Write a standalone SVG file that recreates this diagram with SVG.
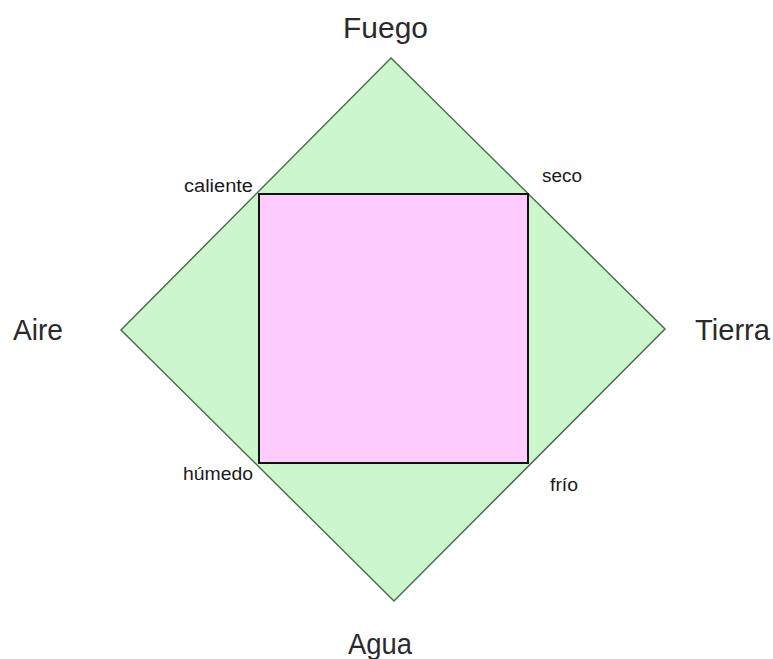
<svg xmlns="http://www.w3.org/2000/svg" width="773" height="659" viewBox="0 0 773 659">
<style>
.big{font-family:"Liberation Sans",Arial,sans-serif;font-size:29px;fill:#2a2a2a}
.small{font-family:"Liberation Sans",Arial,sans-serif;font-size:18px;fill:#1a1a1a}
</style>
<rect width="773" height="659" fill="#ffffff"/>
<g id="diamond">
<polygon points="391,58 665,329 394,601 121,330" fill="#ccf7cc" stroke="#4c6e4c" stroke-width="1.5"/>
</g>
<g id="square">
<rect x="259" y="194" width="269" height="269" fill="#ffccff" stroke="#111" stroke-width="2"/>
</g>
<g id="labels">
<text class="big" x="343" y="38" textLength="85" lengthAdjust="spacingAndGlyphs">Fuego</text>
<text class="big" x="13" y="340" textLength="50" lengthAdjust="spacingAndGlyphs">Aire</text>
<text class="big" x="695" y="340" textLength="75" lengthAdjust="spacingAndGlyphs">Tierra</text>
<text class="big" x="348" y="654" textLength="64" lengthAdjust="spacingAndGlyphs">Agua</text>
<text class="small" x="184" y="192" textLength="69" lengthAdjust="spacingAndGlyphs">caliente</text>
<text class="small" x="542" y="182" textLength="40" lengthAdjust="spacingAndGlyphs">seco</text>
<text class="small" x="183" y="480" textLength="70" lengthAdjust="spacingAndGlyphs">húmedo</text>
<text class="small" x="550" y="491" textLength="28" lengthAdjust="spacingAndGlyphs">frío</text>
</g>
</svg>
